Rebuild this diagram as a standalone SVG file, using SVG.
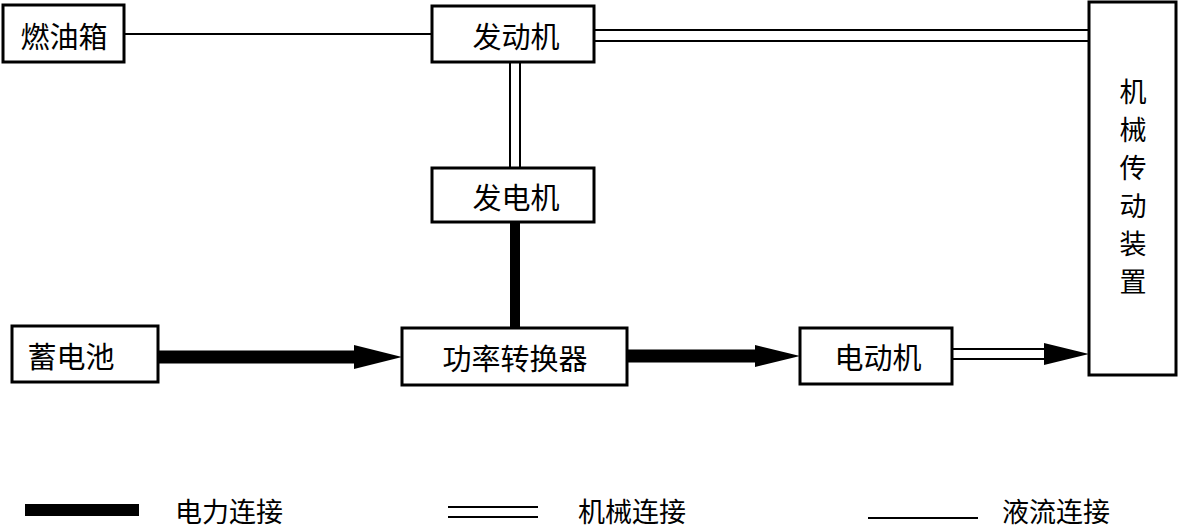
<svg xmlns="http://www.w3.org/2000/svg" width="1178" height="529" viewBox="0 0 1178 529">
<style>
.box{fill:#fff;stroke:#000;stroke-width:3}
.t{font-family:"Noto Sans CJK SC","Noto Sans CJK JP",sans-serif;font-size:29px;fill:#000;text-anchor:middle;dominant-baseline:central}
.v{font-family:"Noto Sans CJK SC","Noto Sans CJK JP",sans-serif;font-size:27px;fill:#000;text-anchor:middle;dominant-baseline:central}
.lg{font-family:"Noto Sans CJK SC","Noto Sans CJK JP",sans-serif;font-size:27px;fill:#000;dominant-baseline:central}
.thin{stroke:#000;stroke-width:2;fill:none}
.thick{stroke:#000;fill:none}
</style>
<rect width="1178" height="529" fill="#fff"/>
<g id="connectors">
  <line class="thin" x1="124" y1="34" x2="432" y2="34"/>
  <line class="thin" x1="594" y1="30" x2="1089" y2="30"/>
  <line class="thin" x1="594" y1="41" x2="1089" y2="41"/>
  <line class="thin" x1="510" y1="62" x2="510" y2="168"/>
  <line class="thin" x1="520" y1="62" x2="520" y2="168"/>
  <line class="thick" stroke-width="10" x1="515" y1="222" x2="515" y2="328"/>
  <line class="thick" stroke-width="13" x1="158" y1="357" x2="358" y2="357"/>
  <polygon points="354,345 402,357 354,369" fill="#000"/>
  <line class="thick" stroke-width="13" x1="627" y1="356" x2="759" y2="356"/>
  <polygon points="755,345 800,356 755,367" fill="#000"/>
  <line class="thin" x1="952" y1="349" x2="1046" y2="349"/>
  <line class="thin" x1="952" y1="359" x2="1046" y2="359"/>
  <polygon points="1044,343 1089,354 1044,365" fill="#000"/>
</g>
<g id="n-fueltank"><rect class="box" x="3" y="5" width="121" height="57"/><text class="t" x="64" y="35">燃油箱</text></g>
<g id="n-engine"><rect class="box" x="432" y="6" width="162" height="56"/><text class="t" x="516" y="35">发动机</text></g>
<g id="n-generator"><rect class="box" x="432" y="168" width="162" height="54"/><text class="t" x="516" y="196">发电机</text></g>
<g id="n-battery"><rect class="box" x="12" y="326" width="146" height="56"/><text class="t" x="71" y="355">蓄电池</text></g>
<g id="n-converter"><rect class="box" x="402" y="328" width="225" height="57"/><text class="t" x="515" y="357">功率转换器</text></g>
<g id="n-motor"><rect class="box" x="800" y="328" width="152" height="56"/><text class="t" x="878" y="356">电动机</text></g>
<g id="n-transmission"><rect class="box" x="1089" y="2" width="87" height="373"/>
  <text class="v" x="1133" y="90">机</text>
  <text class="v" x="1133" y="128">械</text>
  <text class="v" x="1133" y="166">传</text>
  <text class="v" x="1133" y="204">动</text>
  <text class="v" x="1133" y="242">装</text>
  <text class="v" x="1133" y="280">置</text>
</g>
<g id="legend">
  <rect x="25" y="504" width="114" height="12" fill="#000"/>
  <text class="lg" x="175" y="510">电力连接</text>
  <line class="thin" x1="448" y1="507" x2="538" y2="507"/>
  <line class="thin" x1="448" y1="517" x2="538" y2="517"/>
  <text class="lg" x="578" y="510">机械连接</text>
  <line class="thin" x1="868" y1="518" x2="978" y2="518"/>
  <text class="lg" x="1002" y="510">液流连接</text>
</g>
</svg>
